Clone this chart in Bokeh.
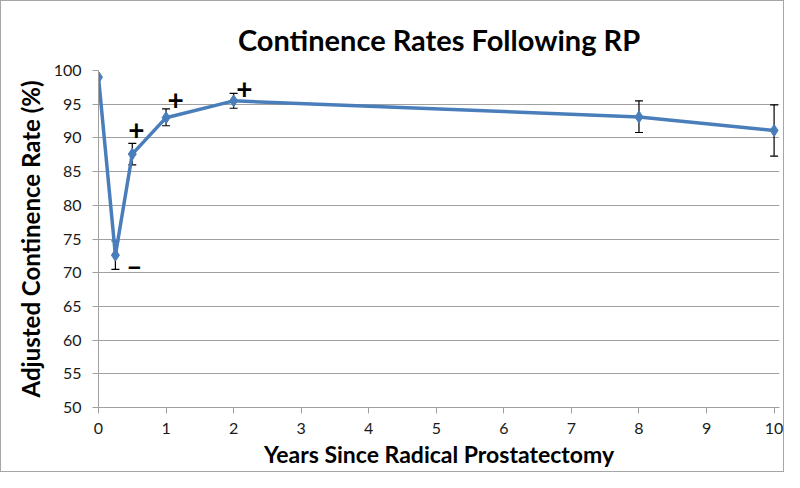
from bokeh.plotting import figure
from bokeh.models import ColumnDataSource, Whisker, TeeHead, Label, FixedTicker, Title
from bokeh.embed import file_html
from bokeh.resources import INLINE

years = [0, 0.25, 0.5, 1, 2, 8, 10]
rates = [99.0, 72.6, 87.6, 93.0, 95.5, 93.1, 91.1]
err_lower = [None, 70.5, 86.0, 91.8, 94.4, 90.8, 87.3]
err_upper = [None, 74.7, 89.2, 94.3, 96.6, 95.5, 94.9]

sig_x = [0.56, 1.14, 2.16, 0.53]
sig_y = [91.3, 95.7, 97.3, 71.2]
sig_text = ["+", "+", "+", "\u2013"]

x_ticks = list(range(0, 11))
y_ticks = list(range(50, 101, 5))

FONT = "Lato"

p = figure(width=784, height=472, output_backend="svg", toolbar_location=None,
           x_range=(0, 10.08), y_range=(50, 100),
           min_border_left=97, min_border_right=6, min_border_top=69, min_border_bottom=66)
p.styles = {"border": "1px solid #a6a6a6", "box-sizing": "border-box"}
p.outline_line_color = None
p.background_fill_color = "white"

p.title = Title(text="Continence Rates Following RP", align="center",
                text_font=FONT, text_font_size="29px", text_font_style="bold",
                text_color="black", offset=0, standoff=27)

p.xaxis.ticker = FixedTicker(ticks=x_ticks)
p.yaxis.ticker = FixedTicker(ticks=y_ticks)
for ax in (p.xaxis, p.yaxis):
    ax.axis_line_color = "#a0a0a0"
    ax.major_tick_line_color = "#a0a0a0"
    ax.minor_tick_line_color = None
    ax.major_tick_in = 0
    ax.major_tick_out = 6
    ax.major_label_text_font = FONT
    ax.major_label_text_font_size = "16px"
    ax.major_label_text_color = "#1a1a1a"
    ax.axis_label_text_font = FONT
    ax.axis_label_text_font_size = "23px"
    ax.axis_label_text_font_style = "bold"
    ax.axis_label_text_color = "black"
p.yaxis.axis_label_text_font_size = "24px"
p.xaxis.axis_label = "Years Since Radical Prostatectomy"
p.yaxis.axis_label = "Adjusted Continence Rate (%)"
p.xaxis.major_label_standoff = 9
p.yaxis.major_label_standoff = 11
p.xaxis.axis_label_standoff = 3
p.yaxis.axis_label_standoff = 6

p.xgrid.grid_line_color = None
p.ygrid.grid_line_color = "#a0a0a0"
p.ygrid.grid_line_width = 1

src = ColumnDataSource(dict(x=years, y=rates))
wx = [x for x, lo in zip(years, err_lower) if lo is not None]
wlo = [lo for lo in err_lower if lo is not None]
whi = [hi for hi in err_upper if hi is not None]
wsrc = ColumnDataSource(dict(x=wx, lower=wlo, upper=whi))

p.add_layout(Whisker(source=wsrc, base="x", lower="lower", upper="upper",
                     line_color="black", line_width=1.2,
                     upper_head=TeeHead(size=8, line_color="black", line_width=1.2),
                     lower_head=TeeHead(size=8, line_color="black", line_width=1.2)))

p.line("x", "y", source=src, line_color="#4a7ebb", line_width=3.5)
p.scatter("x", "y", source=src, marker="diamond", size=12,
          fill_color="#4a7ebb", line_color="#4a7ebb")

for x, y, t in zip(sig_x, sig_y, sig_text):
    p.add_layout(Label(x=x, y=y, text=t, text_font=FONT, text_font_size="28px",
                       text_font_style="bold", text_color="black",
                       text_align="center", text_baseline="middle"))

open("out.html", "w").write(file_html(p, INLINE))
